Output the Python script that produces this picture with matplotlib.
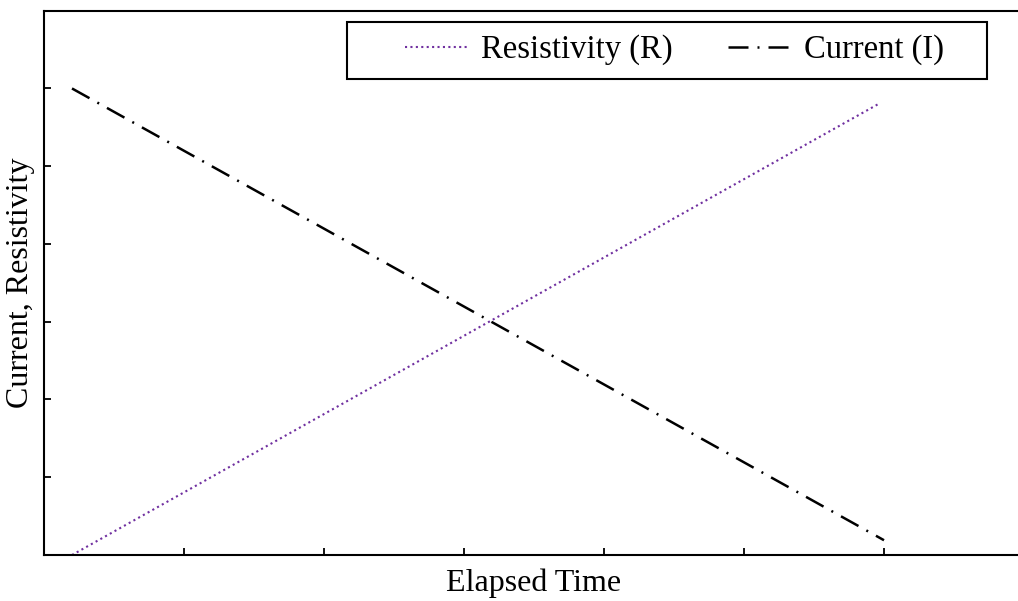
import matplotlib.pyplot as plt
from matplotlib.patches import Rectangle

plt.rcParams["font.family"] = ["Liberation Serif", "DejaVu Serif"]

# values (arbitrary units, axes have no tick labels)
time_r = [0.2, 5.97]
resistivity = [0.0, 5.81]
time_i = [0.2, 6.0]
current = [6.0, 0.19]

x_ticks = [1, 2, 3, 4, 5, 6]
y_ticks = [1, 2, 3, 4, 5, 6]

PURPLE = "#7030a0"
W, H = 1018, 601

fig = plt.figure(figsize=(W / 100, H / 100), dpi=100)
ax = fig.add_axes([44 / W, 46 / H, 980 / W, 544.3 / H])

ax.plot(time_r, resistivity, color=PURPLE, linewidth=1.5,
        linestyle=(0, (1, 1.6)), label="Resistivity (R)")
ax.plot(time_i, current, color="black", linewidth=1.8,
        linestyle=(0, (8, 3.6, 0.8, 3.6)), label="Current (I)")

ax.set_xlim(0, 7)
ax.set_ylim(0, 7)
ax.set_xticks(x_ticks)
ax.set_yticks(y_ticks)
ax.set_xticklabels([])
ax.set_yticklabels([])
ax.tick_params(direction="in", length=5, width=1.3, top=False, right=False)
for s in ax.spines.values():
    s.set_linewidth(1.5)

ax.set_xlabel("Elapsed Time", fontsize=23)
ax.set_ylabel("Current, Resistivity", fontsize=23)
ax.xaxis.set_label_coords(0.5, -0.025)
ax.xaxis.label.set_va("top")
ax.yaxis.set_label_coords(-0.009, 0.5)

# legend without its own frame; the box is drawn separately to get the wide padding
leg = fig.legend(*ax.get_legend_handles_labels(), ncol=2, loc="center left",
                 bbox_to_anchor=(405 / W, 1 - 50 / H), borderaxespad=0,
                 borderpad=0, fontsize=23.5, frameon=False,
                 handlelength=1.95, columnspacing=1.7, handletextpad=0.38)
fig.patches.append(Rectangle((347 / W, 1 - 79 / H), 640 / W, 57 / H,
                             transform=fig.transFigure, fill=True,
                             facecolor="white", edgecolor="black",
                             linewidth=1.5, zorder=2))
leg.set_zorder(3)

fig.savefig("out.png", dpi=100)
